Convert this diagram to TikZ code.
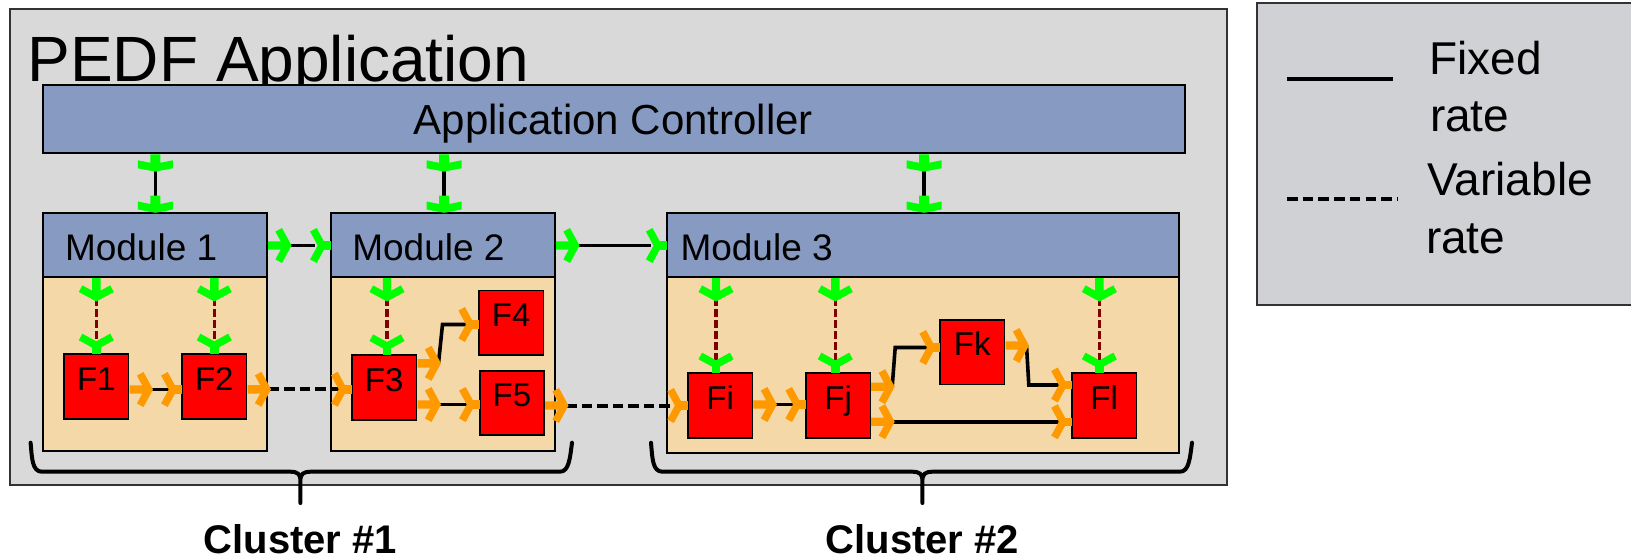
\documentclass[tikz,border=0pt]{standalone}
\usepackage{fontspec}
\setmainfont{Liberation Sans}
\usetikzlibrary{calc}

\definecolor{appbg}{RGB}{217,217,217}
\definecolor{legbg}{RGB}{208,209,212}
\definecolor{ctrlblue}{RGB}{135,154,193}
\definecolor{bodybeige}{RGB}{245,216,168}
\definecolor{pgreen}{RGB}{0,255,0}
\definecolor{porange}{RGB}{255,153,0}
\definecolor{ctrlred}{RGB}{128,0,0}

\tikzset{
  frame/.style={draw=black, line width=2pt, inner sep=0pt, outer sep=0pt, anchor=north west},
  fnbox/.style={draw=black, line width=1.8pt, fill=red, minimum size=64.5pt, inner sep=0pt,
    text height=0.72em, text depth=0pt, font=\fontsize{33}{40}\selectfont},
  lbl/.style={inner sep=0pt, outer sep=0pt},
  fixedlink/.style={line width=3.6pt, black},
  varlink/.style={line width=4pt, black, dash pattern=on 10.5pt off 5pt},
  ctrllink/.style={line width=3.5pt, ctrlred, dash pattern=on 7.5pt off 3.5pt},
  brace/.style={line width=4pt, black, line cap=round, line join=round},
  % controller port: wide flat chevron
  pics/flatport/.style={code={
    \fill[pgreen] (0,-5) -- (8.5,-5) -- (6,-17.5) -- (14,-17.5) -- (17.3,0)
      -- (14,17.5) -- (6,17.5) -- (8.5,5) -- (0,5) -- cycle;}},
  % output port: stem at the box, chevron pointing away
  pics/outport/.style={code={
    \fill[#1] (0,-4.2) -- (12.7,-4.2) -- (7.4,-13.9) -- (14,-17.5) -- (23.5,0)
      -- (14,17.5) -- (7.4,13.9) -- (12.7,4.2) -- (0,4.2) -- cycle;}},
  % input port: chevron first, stem into the box
  pics/inport/.style={code={
    \fill[#1] (-0.6,-13.9) -- (6,-17.5) -- (15.5,0) -- (6,17.5) -- (-0.6,13.9) -- (7,0) -- cycle;
    \fill[#1] (12,-4.2) rectangle (20,4.2);}},
}

\begin{document}
\begin{tikzpicture}[x=1pt,y=-1pt]
\useasboundingbox (0,0) rectangle (1631,559);
\clip (0,0) rectangle (1631,559);
\fill[white] (0,0) rectangle (1631,559);

% application frame and title
\node[frame, draw=black!80, fill=appbg, minimum width=1217pt, minimum height=476pt] (app) at (10,9) {};
\node[lbl, anchor=base west, font=\fontsize{64}{70}\selectfont] (apptitle) at (27.6,82) {PEDF Application};

% application controller
\node[frame, fill=ctrlblue, minimum width=1141.7pt, minimum height=68.3pt] (ctrl) at (43,85) {};
\node[lbl, anchor=base, font=\fontsize{42}{50}\selectfont] (ctrllbl) at (613.5,135) {Application Controller};

% modules: body and header
\node[frame, fill=bodybeige, minimum width=224.3pt, minimum height=174pt] (m1b) at (42.7,277) {};
\node[frame, fill=ctrlblue, minimum width=224.3pt, minimum height=64pt] (m1h) at (42.7,213) {};
\node[frame, fill=bodybeige, minimum width=224.3pt, minimum height=174pt] (m2b) at (330.7,277) {};
\node[frame, fill=ctrlblue, minimum width=224.3pt, minimum height=64pt] (m2h) at (330.7,213) {};
\node[frame, fill=bodybeige, minimum width=512.5pt, minimum height=176pt] (m3b) at (666.5,277) {};
\node[frame, fill=ctrlblue, minimum width=512.5pt, minimum height=64pt] (m3h) at (666.5,213) {};
\node[lbl, anchor=base west, font=\fontsize{37}{44}\selectfont] (m1lbl) at (65,260) {Module 1};
\node[lbl, anchor=base west, font=\fontsize{37}{44}\selectfont] (m2lbl) at (352.3,260) {Module 2};
\node[lbl, anchor=base west, font=\fontsize{37}{44}\selectfont] (m3lbl) at (680.5,260) {Module 3};

% filters
\node[fnbox] (f1) at (96.3,386.5) {F1};
\node[fnbox] (f2) at (214.3,386.5) {F2};
\node[fnbox] (f3) at (384.2,387.5) {F3};
\node[fnbox] (f4) at (511.2,322.7) {F4};
\node[fnbox] (f5) at (512,403) {F5};
\node[fnbox] (fi) at (720.2,405.5) {Fi};
\node[fnbox] (fj) at (838.2,405.5) {Fj};
\node[fnbox] (fk) at (972.3,352.2) {Fk};
\node[fnbox] (fl) at (1104.2,405.5) {Fl};

% controller to module links
\foreach \px/\m in {155.3/1, 444/2, 924/3} {
  \coordinate (ctrlout\m) at (\px,168);
  \coordinate (modin\m) at (\px,198);
  \draw[fixedlink] (ctrlout\m) -- (modin\m);
  \pic[rotate=-90] at (\px,154.3) {flatport};
  \pic[rotate=-90] at (\px,195.5) {flatport};
}

% module to module links
\coordinate (m1out) at (288,245.5);
\coordinate (m2in) at (315,245.5);
\coordinate (m2out) at (576,245.5);
\coordinate (m3in) at (651,245.5);
\draw[fixedlink] (m1out) -- (m2in);
\draw[fixedlink] (m2out) -- (m3in);
\pic at (268,245.5) {outport=pgreen};
\pic at (310.7,245.5) {inport=pgreen};
\pic at (556,245.5) {outport=pgreen};
\pic at (646.5,245.5) {inport=pgreen};

% module to filter control links
\foreach \px/\ty/\n in {96.3/354.3/1, 214.3/354.3/2, 387/355/3, 716/373.3/4, 835.3/373.3/5, 1099.4/373.3/6} {
  \coordinate (hdout\n) at (\px,298);
  \coordinate (fnctl\n) at (\px,\ty-12);
  \draw[ctrllink] (hdout\n) -- (fnctl\n);
  \pic[rotate=-90] at (\px,278) {outport=pgreen};
  \pic[rotate=-90] at (\px,\ty-20) {inport=pgreen};
}

% data links between filters
\coordinate (f1o) at (150.5,389.5);   \coordinate (f2i) at (170.7,389.5);
\coordinate (f2o) at (268.5,389.3);   \coordinate (f3i) at (340.7,389.3);
\coordinate (f3o1) at (438.5,363.3);  \coordinate (f4i) at (468,324.5);
\coordinate (f3o2) at (438.5,404.5);  \coordinate (f5i) at (468.7,404.5);
\coordinate (f5o) at (566,405.5);     \coordinate (fii) at (676.9,405.5);
\coordinate (fio) at (774.4,404.5);   \coordinate (fji) at (795,404.5);
\coordinate (fjo1) at (892.2,386.7);  \coordinate (fki) at (929,347.5);
\coordinate (fjo2) at (892.2,421.7);  \coordinate (fli2) at (1060.8,421.7);
\coordinate (fko) at (1026.5,345.5);  \coordinate (fli1) at (1060.8,385);

\draw[fixedlink] (f1o) -- (f2i);
\draw[varlink] (f2o) -- (f3i);
\draw[fixedlink, line join=miter] (f3o1) -- ++(4,-38.8) -- (f4i);
\draw[fixedlink] (f3o2) -- (f5i);
\draw[varlink] (f5o) -- (fii);
\draw[fixedlink] (fio) -- (fji);
\draw[fixedlink, line join=miter] (fjo1) -- ++(3,-39.2) -- (fki);
\draw[fixedlink] (fjo2) -- (fli2);
\draw[fixedlink, line join=miter] (fko) -- ++(2.3,39.5) -- (fli1);

\pic at (129.5,389.5) {outport=porange};
\pic at (161.7,389.5) {inport=porange};
\pic at (247.5,389.3) {outport=porange};
\pic at (331.7,389.3) {inport=porange};
\pic at (417.5,363.3) {outport=porange};
\pic at (417.5,404.5) {outport=porange};
\pic at (459,324.5) {inport=porange};
\pic at (459.7,404.5) {inport=porange};
\pic at (545,405.5) {outport=porange};
\pic at (667.9,405.5) {inport=porange};
\pic at (753.4,404.5) {outport=porange};
\pic at (786,404.5) {inport=porange};
\pic at (871.2,386.7) {outport=porange};
\pic at (871.2,421.7) {outport=porange};
\pic at (920,347.5) {inport=porange};
\pic at (1005.5,345.5) {outport=porange};
\pic at (1051.8,385) {inport=porange};
\pic at (1051.8,421.7) {inport=porange};

% cluster braces
\draw[brace] (30.6,442.7) .. controls (32,458) and (32,471.7) .. (42,471.7) -- (290,471.7)
  .. controls (298,471.7) and (300.4,474) .. (300.4,481) -- (300.4,503)
  (300.4,481) .. controls (300.4,474) and (303,471.7) .. (311,471.7) -- (560,471.7)
  .. controls (569,471.7) and (570,458) .. (572,442.7);
\draw[brace] (651,442.7) .. controls (652.4,458) and (652.4,471.7) .. (662.4,471.7) -- (912,471.7)
  .. controls (920,471.7) and (922.4,474) .. (922.4,481) -- (922.4,503)
  (922.4,481) .. controls (922.4,474) and (925,471.7) .. (933,471.7) -- (1180,471.7)
  .. controls (1189,471.7) and (1190,458) .. (1192,442.7);
\node[lbl, anchor=base, font=\bfseries\fontsize{40}{48}\selectfont] (cl1) at (300.4,553) {Cluster \#1};
\node[lbl, anchor=base, font=\bfseries\fontsize{40}{48}\selectfont] (cl2) at (922.4,553) {Cluster \#2};

% legend
\node[frame, draw=black!80, fill=legbg, minimum width=400pt, minimum height=302pt] (legend) at (1256.7,3) {};
\coordinate (lfixa) at (1287,79);   \coordinate (lfixb) at (1393,79);
\coordinate (lvara) at (1287,199);  \coordinate (lvarb) at (1397,199);
\draw[line width=4pt] (lfixa) -- (lfixb);
\draw[line width=4pt, dash pattern=on 10.5pt off 5.2pt] (lvara) -- (lvarb);
\node[lbl, anchor=base west, font=\fontsize{46}{56}\selectfont] (lfix1) at (1429.5,75) {Fixed};
\node[lbl, anchor=base west, font=\fontsize{46}{56}\selectfont] (lfix2) at (1430,132) {rate};
\node[lbl, anchor=base west, font=\fontsize{46}{56}\selectfont] (lvar1) at (1427.5,195) {Variable};
\node[lbl, anchor=base west, font=\fontsize{46}{56}\selectfont] (lvar2) at (1426,253) {rate};
\end{tikzpicture}
\end{document}
